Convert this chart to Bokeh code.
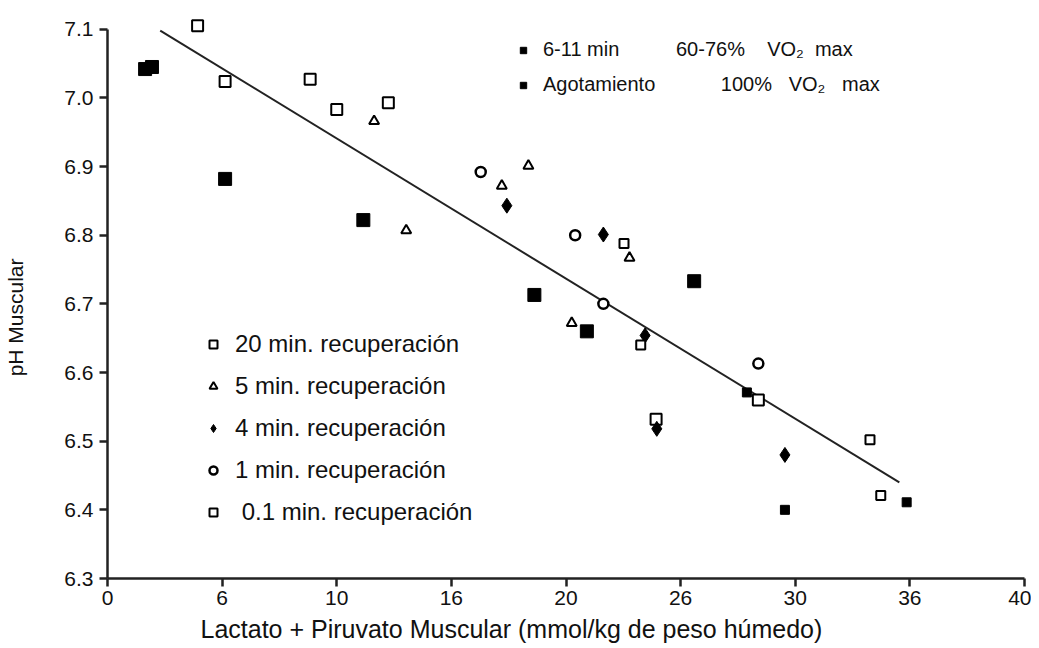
from bokeh.plotting import figure
from bokeh.models import Legend, LegendItem, Title, FixedTicker
from bokeh.embed import file_html
from bokeh.resources import INLINE

# ---- data ----
ex_x = [1.64, 1.94, 5.13, 11.16, 18.62, 20.91, 25.59]
ex_y = [7.042, 7.045, 6.882, 6.822, 6.713, 6.660, 6.733]

ag_x = [29.55, 34.86, 27.89]
ag_y = [6.400, 6.411, 6.571]

r20_x = [3.93, 5.13, 8.84, 10.0, 12.25, 23.93, 28.39]
r20_y = [7.105, 7.024, 7.027, 6.983, 6.993, 6.532, 6.560]

r5_x = [11.63, 13.03, 18.36, 17.20, 20.25, 22.77]
r5_y = [6.966, 6.807, 6.901, 6.872, 6.672, 6.767]

r4_x = [17.42, 21.63, 23.45, 23.96, 29.55]
r4_y = [6.843, 6.801, 6.654, 6.518, 6.480]

r1_x = [16.28, 20.40, 21.63, 28.39]
r1_y = [6.892, 6.800, 6.700, 6.613]

r01_x = [22.53, 23.26, 33.26, 33.73]
r01_y = [6.788, 6.640, 6.502, 6.421]

fit_x = [2.30, 34.54]
fit_y = [7.098, 6.440]

x_ticks = [0, 5, 10, 15, 20, 25, 30, 35, 40]
x_tick_labels = ["0", "6", "10", "16", "20", "26", "30", "36", "40"]
y_ticks = [6.3, 6.4, 6.5, 6.6, 6.7, 6.8, 6.9, 7.0, 7.1]
y_tick_labels = ["6.3", "6.4", "6.5", "6.6", "6.7", "6.8", "6.9", "7.0", "7.1"]

FONT = "Liberation Sans"
INK = "#111111"
EM = "\u2003"
NB = "\u00a0"

p = figure(width=1031, height=648, output_backend="svg", toolbar_location=None,
           x_range=(0, 40), y_range=(6.3, 7.12),
           min_border_left=107, min_border_right=7, min_border_top=15, min_border_bottom=70)
p.outline_line_color = None
p.grid.visible = False
p.background_fill_color = "white"
p.border_fill_color = "white"

for ax in (p.xaxis[0], p.yaxis[0]):
    ax.axis_line_width = 2.5
    ax.axis_line_color = "#222222"
    ax.major_tick_line_width = 2.5
    ax.major_tick_line_color = "#222222"
    ax.major_tick_out = 8
    ax.major_tick_in = 0
    ax.minor_tick_line_color = None
    ax.major_label_text_font = FONT
    ax.major_label_text_font_size = "21px"
    ax.major_label_text_color = INK

p.xaxis.ticker = FixedTicker(ticks=x_ticks)
p.xaxis.major_label_overrides = {t: l for t, l in zip(x_ticks, x_tick_labels)}
p.xaxis.major_label_standoff = 4
p.yaxis.ticker = FixedTicker(ticks=y_ticks)
p.yaxis.major_label_overrides = {t: l for t, l in zip(y_ticks, y_tick_labels)}
p.yaxis.major_label_standoff = 6
p.yaxis.bounds = (6.3, 7.1)
p.yaxis.axis_label = "pH Muscular" + NB * 7
p.yaxis.axis_label_text_font = FONT
p.yaxis.axis_label_text_font_size = "21px"
p.yaxis.axis_label_text_font_style = "normal"
p.yaxis.axis_label_text_color = INK
p.yaxis.axis_label_standoff = 34

# regression line
p.line(fit_x, fit_y, line_color="#222222", line_width=2)

r_ex = p.scatter(ex_x, ex_y, marker="square", size=13, fill_color="black", line_color="black")
r_ag = p.scatter(ag_x, ag_y, marker="square", size=9, fill_color="black", line_color="black")
r_20 = p.scatter(r20_x, r20_y, marker="square", size=11, fill_color="white", line_color="black", line_width=2)
r_5 = p.scatter(r5_x, r5_y, marker="triangle", size=10, fill_color="white", line_color="black", line_width=2)
r_4 = p.scatter(r4_x, r4_y, marker="diamond", size=15, fill_color="black", line_color="black")
r_1 = p.scatter(r1_x, r1_y, marker="circle", size=10, fill_color="white", line_color="black", line_width=2.5)
r_01 = p.scatter(r01_x, r01_y, marker="square", size=9, fill_color="white", line_color="black", line_width=2)

top_legend = Legend(items=[
    LegendItem(label="6-11 min" + EM * 2 + NB * 3 + "60-76%" + NB * 4 + "VO\u2082" + NB * 2 + "max",
               renderers=[r_ex]),
    LegendItem(label="Agotamiento" + EM * 3 + NB * 1 + "100%" + NB * 3 + "VO\u2082" + NB * 3 + "max",
               renderers=[r_ag]),
], location=(408, 482), glyph_width=16, glyph_height=20, label_standoff=12,
    spacing=12, padding=0, margin=0, border_line_color=None, background_fill_alpha=0,
    label_text_font=FONT, label_text_font_size="20px", label_text_color=INK)
p.add_layout(top_legend, "center")

bottom_legend = Legend(items=[
    LegendItem(label="20 min. recuperación", renderers=[r_20]),
    LegendItem(label="5 min. recuperación", renderers=[r_5]),
    LegendItem(label="4 min. recuperación", renderers=[r_4]),
    LegendItem(label="1 min. recuperación", renderers=[r_1]),
    LegendItem(label=NB + "0.1 min. recuperación", renderers=[r_01]),
], location=(96, 52), glyph_width=20, glyph_height=20, label_standoff=12,
    spacing=14, padding=0, margin=0, border_line_color=None, background_fill_alpha=0,
    label_text_font=FONT, label_text_font_size="24px", label_text_color=INK)
p.add_layout(bottom_legend, "center")

xtitle = Title(text="Lactato + Piruvato Muscular (mmol/kg de peso húmedo)",
               align="left", offset=93, standoff=11,
               text_font=FONT, text_font_size="25px", text_font_style="normal", text_color=INK)
p.add_layout(xtitle, "below")

open("out.html", "w").write(file_html(p, INLINE))
